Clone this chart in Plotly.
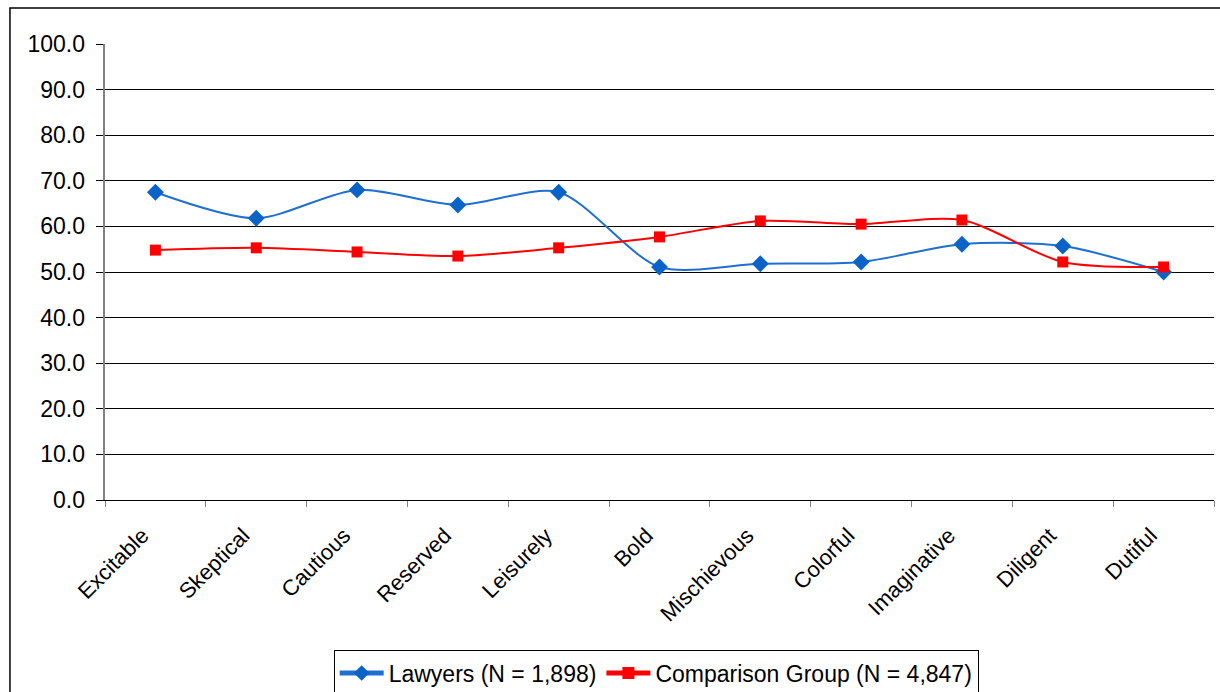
import plotly.graph_objects as go

# Hogan derailer scales
scales = ["Excitable", "Skeptical", "Cautious", "Reserved", "Leisurely", "Bold",
          "Mischievous", "Colorful", "Imaginative", "Diligent", "Dutiful"]
lawyers = [67.5, 61.8, 68.0, 64.7, 67.5, 51.1, 51.8, 52.2, 56.1, 55.7, 50.0]
comparison = [54.8, 55.3, 54.4, 53.5, 55.3, 57.7, 61.2, 60.5, 61.4, 52.2, 51.1]
y_ticks = [0, 10, 20, 30, 40, 50, 60, 70, 80, 90, 100]

FONT = "Liberation Sans, Arial, sans-serif"
NBSP = "\u00a0"

fig = go.Figure()
fig.add_trace(go.Scatter(
    x=scales, y=lawyers, name="Lawyers (N = 1,898)",
    mode="lines+markers",
    line=dict(color="#1F6FD0", width=2, shape="spline", smoothing=0.8),
    marker=dict(symbol="diamond", size=13, color="#0A64C8"),
))
fig.add_trace(go.Scatter(
    x=scales, y=comparison, name="Comparison Group (N = 4,847)",
    mode="lines+markers",
    line=dict(color="#FF0000", width=2, shape="spline", smoothing=0.8),
    marker=dict(symbol="square", size=11, color="#FF0000"),
))

# outer chart frame
fig.add_shape(type="rect", xref="paper", yref="paper",
              x0=-0.0857, x1=1.02, y0=-0.45, y1=1.079,
              line=dict(color="black", width=1.5), fillcolor="rgba(0,0,0,0)",
              layer="below")

fig.update_layout(
    width=1220, height=692,
    margin=dict(l=105, r=6, t=44, b=192, autoexpand=False),
    paper_bgcolor="white", plot_bgcolor="white",
    font=dict(family=FONT, color="black"),
    showlegend=True,
    legend=dict(
        orientation="h", x=0.497, xanchor="center", y=-0.33, yanchor="top",
        bordercolor="black", borderwidth=1, font=dict(size=23, family=FONT),
        itemwidth=44, tracegroupgap=0, itemsizing="constant",
    ),
    xaxis=dict(
        type="category", range=[-0.5, 10.5], automargin=False,
        tickangle=-45, tickfont=dict(size=22, family=FONT),
        ticksuffix=NBSP * 3,
        ticks="outside", ticklen=6, tickcolor="#808080", tickson="boundaries",
        ticklabelstandoff=0,
        showgrid=False, showline=True, linecolor="black", linewidth=1,
    ),
    yaxis=dict(
        range=[0, 100], tickvals=y_ticks, automargin=False,
        ticktext=[f"{v:.1f}{NBSP}" for v in y_ticks],
        tickfont=dict(size=23, family=FONT),
        ticks="outside", ticklen=7, tickcolor="black",
        showgrid=True, gridcolor="black", gridwidth=1,
        showline=True, linecolor="#808080", linewidth=2,
        zeroline=False,
    ),
)

fig.write_html("out.html")
